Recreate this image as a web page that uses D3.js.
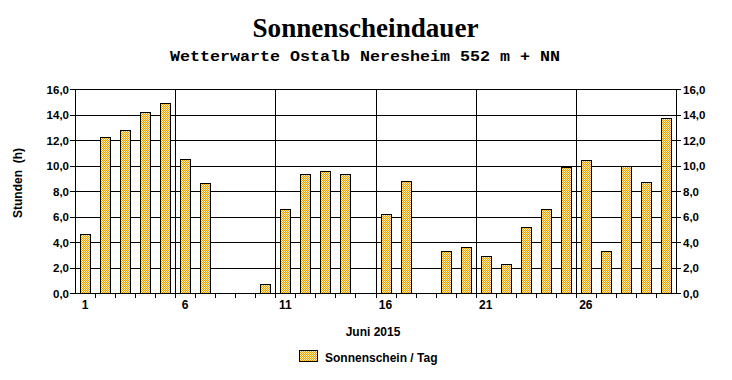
<!DOCTYPE html>
<html><head><meta charset="utf-8">
<script src="https://cdn.jsdelivr.net/npm/d3@7"></script>
<style>body{margin:0;background:#fff}svg{display:block}</style>
</head><body>
<script>
const days = d3.range(1, 31);
const sunshine = [4.6,12.2,12.8,14.2,14.9,10.5,8.6,0,0,0.7,6.6,9.3,9.6,9.3,0,6.2,8.8,0,3.3,3.6,2.9,2.3,5.2,6.6,9.9,10.4,3.3,10.0,8.7,13.7];
const yTicks = [0,2,4,6,8,10,12,14,16];
const xLabelDays = [1,6,11,16,21,26];
const title = "Sonnenscheindauer";
const subtitle = "Wetterwarte Ostalb Neresheim 552 m + NN";
const xTitle = "Juni 2015";
const yTitle = "Stunden  (h)";
const legendLabel = "Sonnenschein / Tag";

const W = 732, H = 380;
const L = 75, R = 676, T = 89, B = 293;
const svg = d3.select("body").append("svg").attr("width", W).attr("height", H);

const defs = svg.append("defs");
const pat = defs.append("pattern").attr("id","chk").attr("width",2).attr("height",2).attr("patternUnits","userSpaceOnUse");
pat.append("rect").attr("width",2).attr("height",2).attr("fill","#FFF2B0");
pat.append("rect").attr("width",1).attr("height",1).attr("fill","#FF9900");
pat.append("rect").attr("x",1).attr("y",1).attr("width",1).attr("height",1).attr("fill","#FF9900");

const x = d3.scaleBand().domain(days).range([L, R]).paddingInner(0.5).paddingOuter(0.25);
const y = d3.scaleLinear().domain([0,16]).range([B, T]);
const step = x.step();
const fmt = v => d3.format(".1f")(v).replace(".", ",");

svg.append("g").selectAll("line").data(yTicks).join("line")
  .attr("x1", L - 5).attr("x2", R + 5)
  .attr("y1", d => Math.round(y(d)) + 0.5).attr("y2", d => Math.round(y(d)) + 0.5)
  .attr("stroke", "#000").attr("stroke-width", 1);

svg.append("g").selectAll("line").data([6,11,16,21,26]).join("line")
  .attr("x1", d => Math.round(x(d) - step*0.25) + 0.5).attr("x2", d => Math.round(x(d) - step*0.25) + 0.5)
  .attr("y1", T).attr("y2", B)
  .attr("stroke", "#000");

svg.append("line").attr("x1", L + 0.5).attr("x2", L + 0.5).attr("y1", T).attr("y2", B + 1).attr("stroke", "#000");
svg.append("line").attr("x1", R + 0.5).attr("x2", R + 0.5).attr("y1", T).attr("y2", B + 1).attr("stroke", "#000");

svg.append("g").selectAll("line").data(days.slice(1)).join("line")
  .attr("x1", d => Math.round(x(d) - step*0.25) + 0.5).attr("x2", d => Math.round(x(d) - step*0.25) + 0.5)
  .attr("y1", B).attr("y2", B + 5).attr("stroke", "#000");

svg.append("g").selectAll("rect").data(days.map((d,i)=>({d, v: sunshine[i]})).filter(e => e.v > 0)).join("rect")
  .attr("x", e => Math.round(x(e.d)) + 0.5)
  .attr("width", Math.round(x.bandwidth()))
  .attr("y", e => Math.round(y(e.v)) + 0.5)
  .attr("height", e => Math.round(y(0)) - Math.round(y(e.v)))
  .attr("fill", "url(#chk)").attr("stroke", "#000").attr("stroke-width", 1);

const axisFont = "'Liberation Sans', Arial, sans-serif";
svg.append("g").selectAll("text").data(yTicks).join("text")
  .attr("x", 69).attr("y", d => y(d) + 4.5).attr("text-anchor", "end")
  .attr("font-family", axisFont).attr("font-weight", "bold").attr("font-size", 11.5)
  .text(d => fmt(d));
svg.append("g").selectAll("text").data(yTicks).join("text")
  .attr("x", 683).attr("y", d => y(d) + 4.5).attr("text-anchor", "start")
  .attr("font-family", axisFont).attr("font-weight", "bold").attr("font-size", 11.5)
  .text(d => fmt(d));
svg.append("g").selectAll("text").data(xLabelDays).join("text")
  .attr("x", d => x(d) + x.bandwidth()/2).attr("y", 309).attr("text-anchor", "middle")
  .attr("font-family", axisFont).attr("font-weight", "bold").attr("font-size", 12)
  .text(d => d);

svg.append("text").attr("x", 365.5).attr("y", 37).attr("text-anchor", "middle")
  .attr("font-family", "'Liberation Serif', 'Times New Roman', serif").attr("font-weight", "bold").attr("font-size", 28)
  .attr("textLength", 226).attr("lengthAdjust", "spacingAndGlyphs").text(title);
svg.append("text").attr("x", 365).attr("y", 61).attr("text-anchor", "middle")
  .attr("font-family", "'Liberation Mono', 'Courier New', monospace").attr("font-weight", "bold").attr("font-size", 15)
  .attr("textLength", 390).attr("lengthAdjust", "spacingAndGlyphs").text(subtitle);

svg.append("text").attr("x", 373).attr("y", 336).attr("text-anchor", "middle")
  .attr("font-family", axisFont).attr("font-weight", "bold").attr("font-size", 12).text(xTitle);
svg.append("text").attr("transform", "translate(22,183) rotate(-90)").attr("text-anchor", "middle")
  .attr("font-family", axisFont).attr("font-weight", "bold").attr("font-size", 12).attr("xml:space","preserve").text(yTitle);

svg.append("rect").attr("x", 299.5).attr("y", 350.5).attr("width", 18).attr("height", 11)
  .attr("fill", "url(#chk)").attr("stroke", "#000");
svg.append("text").attr("x", 325).attr("y", 362)
  .attr("font-family", axisFont).attr("font-weight", "bold").attr("font-size", 12).text(legendLabel);
</script>
</body></html>
